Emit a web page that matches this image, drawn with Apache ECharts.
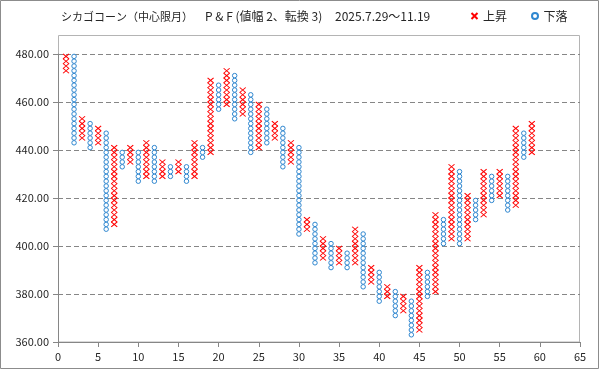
<!DOCTYPE html>
<html><head><meta charset="utf-8">
<script src="https://cdn.jsdelivr.net/npm/echarts@6/dist/echarts.min.js"></script>
<style>html,body{margin:0;padding:0;background:#fff}#c{width:599px;height:369px}</style>
</head><body><div id="c"></div>
<script>
// ---- text ----
const titleName = 'シカゴコーン（中心限月）';
const titleMethod = 'P & F (値幅 2、転換 3)';
const titlePeriod = '2025.7.29～11.19';
const seriesNames = ['上昇', '下落'];

// ---- axes ----
const xMin = 0, xMax = 65, xStep = 5;
const yMin = 360, yMax = 480, yStep = 20;
const boxSize = 2;

// ---- P&F columns (column number = index + 1) ----
const colType = ['X','O','X','O','X','O','X','O','X','O',
                 'X','O','X','O','X','O','X','O','X','O',
                 'X','O','X','O','X','O','X','O','X','O',
                 'X','O','X','O','X','O','X','O','X','O',
                 'X','O','X','O','X','O','X','O','X','O',
                 'X','O','X','O','X','O','X','O','X'];
const colLow  = [473,443,445,441,443,407,409,433,435,427,
                 429,427,429,429,431,427,429,437,439,457,
                 459,453,455,439,441,443,445,433,435,405,
                 407,393,395,391,393,391,393,383,385,377,
                 379,371,373,363,365,379,381,401,403,401,
                 403,411,413,419,421,415,417,437,439];
const colHigh = [481,479,453,451,449,447,441,439,441,439,
                 443,441,435,433,435,433,443,441,469,467,
                 473,471,465,463,459,457,451,449,443,441,
                 411,409,403,401,399,397,407,405,391,389,
                 383,381,379,377,391,389,413,411,433,431,
                 421,419,431,429,431,429,449,447,451];

function boxes(type) {
  const out = [];
  for (let i = 0; i < colType.length; i++) {
    if (colType[i] !== type) continue;
    for (let v = colLow[i]; v <= colHigh[i]; v += boxSize) out.push([i + 1, v]);
  }
  return out;
}

const font = "'Noto Sans CJK JP', 'Noto Sans', sans-serif";
const axisColor = '#868686';
const txtColor = '#262626';

const chart = echarts.init(document.getElementById('c'), null, {renderer: 'canvas'});
chart.setOption({
  animation: false,
  backgroundColor: '#ffffff',
  textStyle: {fontFamily: font},
  grid: {left: 58, right: 19, top: 54, bottom: 27, containLabel: false},
  legend: {
    left: 469, top: 10, padding: 0, itemGap: 24, itemWidth: 7, itemHeight: 6,
    textStyle: {fontSize: 12, color: txtColor, fontFamily: font},
    data: seriesNames
  },
  graphic: [
    {type: 'rect', silent: true, z: -1, shape: {x: 0.5, y: 0.5, width: 598, height: 368},
     style: {fill: 'none', stroke: '#8c8c8c', lineWidth: 1}},
    {type: 'rect', silent: true, z: 0, shape: {x: 58.5, y: 35.5, width: 521, height: 306.5},
     style: {fill: 'none', stroke: '#b4b4b4', lineWidth: 1}},
    {type: 'text', left: 61, top: 11, style: {text: titleName, font: '11px ' + font, fill: txtColor}},
    {type: 'text', left: 205, top: 10, style: {text: titleMethod, font: '12px ' + font, fill: txtColor}},
    {type: 'text', left: 335, top: 10, style: {text: titlePeriod, font: '12px ' + font, fill: txtColor}}
  ],
  xAxis: {
    type: 'value', min: xMin, max: xMax, interval: xStep,
    axisLine: {show: true, lineStyle: {color: axisColor}},
    axisTick: {show: true, inside: false, length: 5, lineStyle: {color: axisColor}},
    splitLine: {show: false},
    axisLabel: {fontSize: 11, color: txtColor, margin: 9, fontFamily: font}
  },
  yAxis: {
    type: 'value', min: yMin, max: yMax, interval: yStep,
    axisLine: {show: true, lineStyle: {color: axisColor}},
    axisTick: {show: true, inside: false, length: 5, lineStyle: {color: axisColor}},
    splitLine: {show: true, showMinLine: false, lineStyle: {color: axisColor, type: [5, 3], width: 1}},
    axisLabel: {fontSize: 11, color: txtColor, margin: 9, fontFamily: font,
                formatter: v => v.toFixed(2)}
  },
  series: [
    {
      name: seriesNames[0], type: 'scatter', data: boxes('X'),
      symbol: 'path://M0,0L10,10M10,0L0,10', symbolSize: [6, 5], symbolKeepAspect: false,
      itemStyle: {color: 'none', borderColor: '#ff0000', borderWidth: 1, opacity: 1},
      emphasis: {disabled: true}, z: 3
    },
    {
      name: seriesNames[1], type: 'scatter', data: boxes('O'),
      symbol: 'circle', symbolSize: 4.5,
      itemStyle: {color: '#ffffff', borderColor: '#2f87d0', borderWidth: 1, opacity: 1},
      emphasis: {disabled: true}, z: 3
    }
  ]
});
</script>
</body></html>
